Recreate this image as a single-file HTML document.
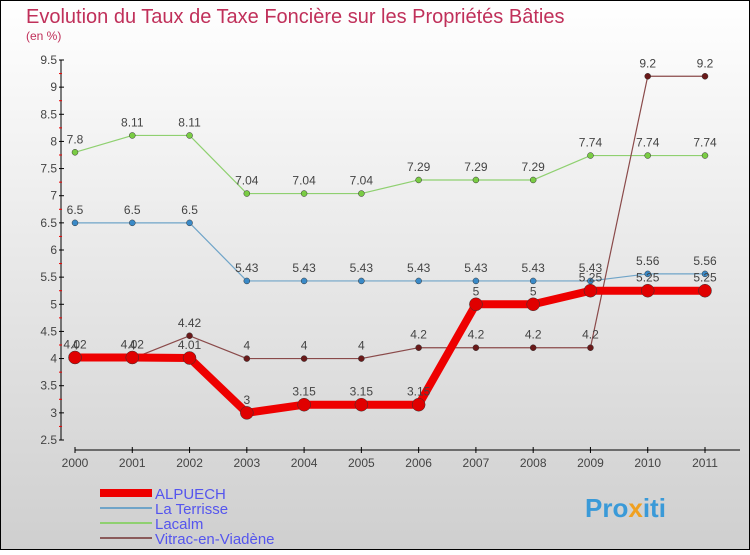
<!DOCTYPE html>
<html><head><meta charset="utf-8"><style>
body{margin:0}
svg text{font-family:"Liberation Sans",sans-serif}
</style></head><body>
<svg id="c" width="750" height="550" xmlns="http://www.w3.org/2000/svg">
<defs><linearGradient id="bg" x1="0" y1="0" x2="0" y2="1"><stop offset="0" stop-color="#ffffff"/><stop offset="1" stop-color="#cfcfcf"/></linearGradient></defs>
<rect x="0.5" y="0.5" width="749" height="549" fill="url(#bg)" stroke="#000"/>
<text x="26" y="23" font-size="20" fill="#c0305a">Evolution du Taux de Taxe Foncière sur les Propriétés Bâties</text>
<text x="26" y="40" font-size="12" fill="#c0305a">(en %)</text>
<g id="axes"></g><g id="series"></g>
<g>
<rect x="100" y="489" width="52" height="8" fill="#e00"/>
<text x="155" y="499" font-size="15" fill="#5555ee">ALPUECH</text>
<rect x="100" y="507" width="52" height="2" fill="#6fa4c8"/>
<text x="155" y="514" font-size="15" fill="#5555ee">La Terrisse</text>
<rect x="100" y="522" width="52" height="2" fill="#8fd070"/>
<text x="155" y="529" font-size="15" fill="#5555ee">Lacalm</text>
<rect x="100" y="537" width="52" height="2" fill="#8a5a5a"/>
<text x="155" y="544" font-size="15" fill="#5555ee">Vitrac-en-Viadène</text>
</g>
<text x="585" y="517" font-size="26" font-weight="bold" fill="#3a9ad8">Pro<tspan fill="#f0a020">x</tspan>iti</text>
</svg>
<script>
const years=["2000","2001","2002","2003","2004","2005","2006","2007","2008","2009","2010","2011"];
const yTicks=[2.5,3,3.5,4,4.5,5,5.5,6,6.5,7,7.5,8,8.5,9,9.5];
const alpuech=[4.02,4.02,4.01,3,3.15,3.15,3.15,5,5,5.25,5.25,5.25];
const laTerrisse=[6.5,6.5,6.5,5.43,5.43,5.43,5.43,5.43,5.43,5.43,5.56,5.56];
const lacalm=[7.8,8.11,8.11,7.04,7.04,7.04,7.29,7.29,7.29,7.74,7.74,7.74];
const vitrac=[4,4,4.42,4,4,4,4.2,4.2,4.2,4.2,9.2,9.2];
const NS="http://www.w3.org/2000/svg";
const X=i=>75+i*(705-75)/11;
const Y=v=>440-(v-2.5)*(380/7);
function mk(t,a,p){const e=document.createElementNS(NS,t);for(const k in a)e.setAttribute(k,a[k]);p.appendChild(e);return e;}
const ax=document.getElementById('axes');
let l=mk('line',{x1:61,y1:60,x2:61,y2:440,stroke:'#000'},ax);


l=mk('line',{x1:75,y1:450,x2:740,y2:450,stroke:'#000'},ax);


yTicks.forEach((v,i)=>{
 mk('line',{x1:59,y1:Y(v),x2:64,y2:Y(v),stroke:'#000'},ax);
 if(i<yTicks.length-1)mk('line',{x1:59,y1:Y(v+0.25),x2:62,y2:Y(v+0.25),stroke:'#e00'},ax);
 const t=mk('text',{x:57,y:Y(v)+4,'font-size':12,'text-anchor':'end',fill:'#444'},ax);t.textContent=String(v);
 
 
});
years.forEach((y,i)=>{
 mk('line',{x1:X(i),y1:447,x2:X(i),y2:453,stroke:'#000'},ax);
 const t=mk('text',{x:X(i),y:467,'font-size':12,'text-anchor':'middle',fill:'#444'},ax);t.textContent=y;
 
 
});
const sg=document.getElementById('series');
function draw(data,name,col,dot,w,r){
 const g=mk('g',{},sg);
 
 
 const p=mk('polyline',{points:data.map((v,i)=>X(i)+','+Y(v)).join(' '),fill:'none',stroke:col,'stroke-width':w,'stroke-linejoin':'round'},g);
 
 
 data.forEach((v,i)=>{
  const c=mk('circle',{cx:X(i),cy:Y(v),r:r,fill:dot,stroke:'#333','stroke-width':0.5},g);
  
  
  const t=mk('text',{x:X(i),y:Y(v)-9,'font-size':12,'text-anchor':'middle',fill:'#444'},g);t.textContent=String(v);
  
  
 });
}
draw(lacalm,'lacalm','#8fd070','#7acc44',1.2,3);
draw(laTerrisse,'la-terrisse','#6fa4c8','#3a8ac8',1.2,3);
draw(vitrac,'vitrac','#8a4a4a','#6a1a1a',1.2,3);
draw(alpuech,'alpuech','#ee0000','#e00000',8,6.5);
</script>
</body></html>
